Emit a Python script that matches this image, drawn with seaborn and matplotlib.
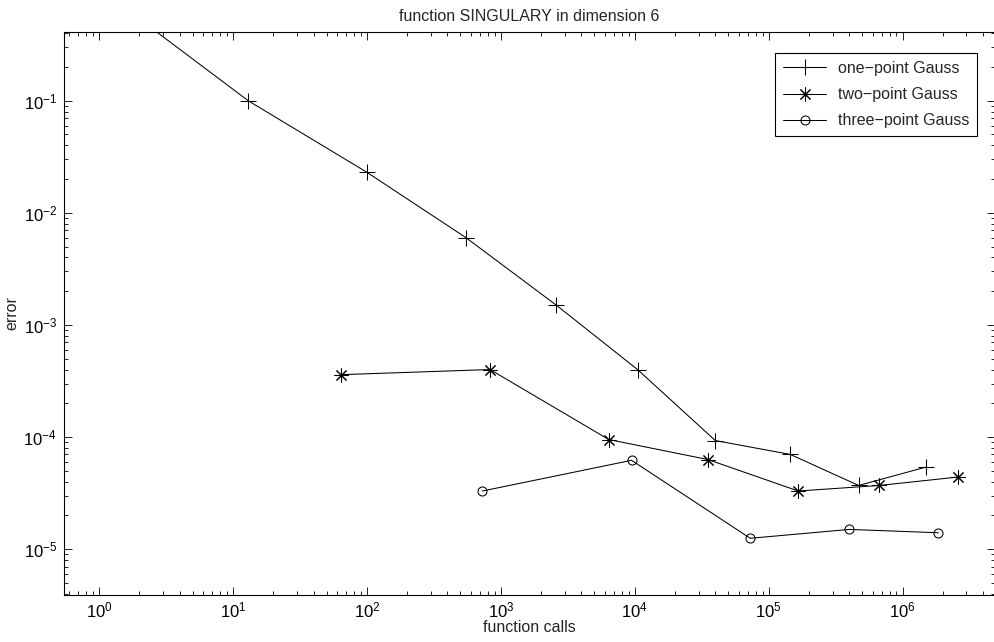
import numpy as np
import pandas as pd
import matplotlib
matplotlib.use("Agg")
import matplotlib.pyplot as plt
import seaborn as sns
from matplotlib.ticker import LogLocator, NullFormatter, FixedLocator

# ---- data ----
one_x = [1, 13, 100, 550, 2600, 10500, 40000, 145000, 470000, 1500000]
one_y = [1.0, 0.1, 0.023, 0.006, 0.0015, 0.0004, 9.3e-5, 7.0e-5, 3.7e-5, 5.4e-5]
two_x = [64, 832, 6400, 35200, 166400, 672000, 2600000]
two_y = [3.6e-4, 4.0e-4, 9.5e-5, 6.3e-5, 3.3e-5, 3.7e-5, 4.4e-5]
three_x = [729, 9477, 72900, 401000, 1850000]
three_y = [3.3e-5, 6.2e-5, 1.25e-5, 1.5e-5, 1.4e-5]
x_major = [1e0, 1e1, 1e2, 1e3, 1e4, 1e5, 1e6]
y_major = [1e-5, 1e-4, 1e-3, 1e-2, 1e-1]
labels = ["one\u2212point Gauss", "two\u2212point Gauss", "three\u2212point Gauss"]
title = "function SINGULARY in dimension 6"
xlabel = "function calls"
ylabel = "error"

sns.set_style("ticks")
plt.rcParams["font.family"] = ["Liberation Sans", "DejaVu Sans"]
plt.rcParams["mathtext.fontset"] = "custom"
plt.rcParams["mathtext.rm"] = "Liberation Sans"
plt.rcParams["mathtext.it"] = "Liberation Sans"
plt.rcParams["mathtext.default"] = "rm"
plt.rcParams["axes.unicode_minus"] = True

fig = plt.figure(figsize=(9.95, 6.42), dpi=100)
ax = fig.add_axes([64 / 995, 47 / 642, 931 / 995, 563 / 642])

df1 = pd.DataFrame({"x": one_x, "y": one_y})
df2 = pd.DataFrame({"x": two_x, "y": two_y})
df3 = pd.DataFrame({"x": three_x, "y": three_y})

lw = 0.75
common = dict(ax=ax, color="black", lw=lw, markeredgecolor="black",
              markeredgewidth=0.75)
sns.lineplot(data=df1, x="x", y="y", marker="+", markersize=11,
             label=labels[0], **common)
sns.lineplot(data=df2, x="x", y="y", marker=(8, 2, 0), markersize=10,
             label=labels[1], **common)
sns.lineplot(data=df3, x="x", y="y", marker="o", markersize=6.5,
             markerfacecolor="none", label=labels[2], **common)

ax.set_xscale("log")
ax.set_yscale("log")
ax.set_xlim(0.548, 4.9e6)
ax.set_ylim(3.9e-6, 0.41)

ax.xaxis.set_major_locator(FixedLocator(x_major))
ax.xaxis.set_minor_locator(LogLocator(base=10, subs=np.arange(2, 10), numticks=100))
ax.yaxis.set_major_locator(FixedLocator(y_major))
ax.yaxis.set_minor_locator(LogLocator(base=10, subs=np.arange(2, 10), numticks=100))
ax.xaxis.set_minor_formatter(NullFormatter())
ax.yaxis.set_minor_formatter(NullFormatter())
ax.set_xticklabels([f"$10^{{{int(round(np.log10(v)))}}}$" for v in x_major])
ax.set_yticklabels([f"$10^{{{int(round(np.log10(v)))}}}$" for v in y_major])

ax.tick_params(which="both", direction="in", top=True, right=True, colors="black",
               labelsize=12, width=0.6)
ax.tick_params(which="major", length=6)
ax.tick_params(which="minor", length=3)
ax.tick_params(axis="x", which="major", pad=4)
ax.tick_params(axis="y", which="major", pad=5)
for s in ax.spines.values():
    s.set_visible(True)
    s.set_linewidth(0.8)
    s.set_color("black")

ax.set_title(title, fontsize=11.5, pad=8)
ax.set_xlabel(xlabel, fontsize=11.5, labelpad=0)
ax.set_ylabel(ylabel, fontsize=11.5, labelpad=3)

leg = ax.legend(loc="upper right", bbox_to_anchor=(0.9807, 0.9627), borderaxespad=0,
                fancybox=False, edgecolor="black", framealpha=1, fontsize=11.5,
                handlelength=2.75, handletextpad=0.7, borderpad=0.5, labelspacing=0.7)
leg.get_frame().set_linewidth(0.8)

fig.savefig("out.png", dpi=100)
